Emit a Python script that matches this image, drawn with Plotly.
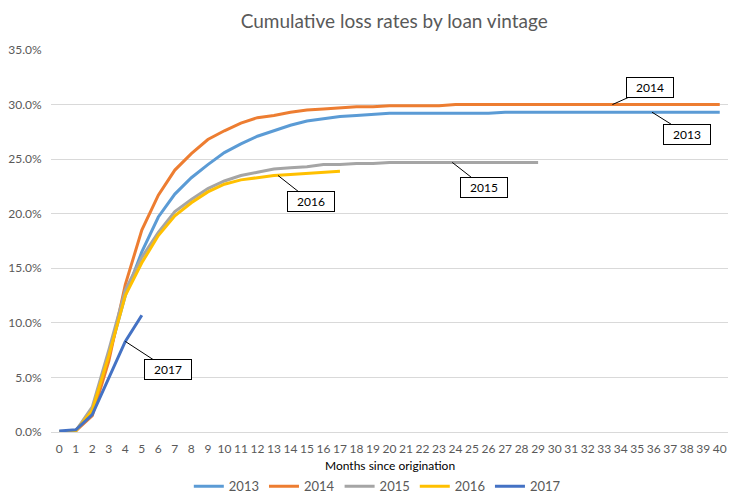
import plotly.graph_objects as go

months = list(range(0, 41))
v2013 = [0.0, 0.1, 2.0, 7.0, 12.5, 16.5, 19.7, 21.8, 23.3, 24.5, 25.6, 26.4, 27.1, 27.6, 28.1, 28.5,
         28.7, 28.9, 29.0, 29.1, 29.2, 29.2, 29.2, 29.2, 29.2, 29.2, 29.2, 29.3, 29.3, 29.3, 29.3,
         29.3, 29.3, 29.3, 29.3, 29.3, 29.3, 29.3, 29.3, 29.3, 29.3]
v2014 = [0.0, 0.1, 1.5, 6.5, 13.5, 18.5, 21.7, 24.0, 25.5, 26.8, 27.6, 28.3, 28.8, 29.0, 29.3, 29.5,
         29.6, 29.7, 29.8, 29.8, 29.9, 29.9, 29.9, 29.9, 30.0, 30.0, 30.0, 30.0, 30.0, 30.0, 30.0,
         30.0, 30.0, 30.0, 30.0, 30.0, 30.0, 30.0, 30.0, 30.0, 30.0]
v2015 = [0.0, 0.1, 2.3, 7.5, 13.0, 16.0, 18.3, 20.2, 21.3, 22.3, 23.0, 23.5, 23.8, 24.1, 24.2, 24.3,
         24.5, 24.5, 24.6, 24.6, 24.7, 24.7, 24.7, 24.7, 24.7, 24.7, 24.7, 24.7, 24.7, 24.7]
v2016 = [0.0, 0.1, 2.0, 7.0, 12.5, 15.5, 18.0, 19.8, 21.0, 22.0, 22.7, 23.1, 23.3, 23.5, 23.6, 23.7,
         23.8, 23.9]
v2017 = [0.1, 0.2, 1.6, 5.0, 8.3, 10.7]

series = [("2013", v2013, "#5B9BD5"), ("2014", v2014, "#ED7D31"), ("2015", v2015, "#A5A5A5"),
          ("2016", v2016, "#FFC000"), ("2017", v2017, "#4472C4")]

FONT = "Lato, Open Sans, sans-serif"
fig = go.Figure()
for name, vals, col in series:
    fig.add_trace(go.Scatter(x=months[:len(vals)], y=[v / 100 for v in vals], mode="lines",
                             name=name, line=dict(color=col, width=3)))

# label annotations: (name, month, value, ax, ay)
labels = [("2014", 33.5, 30.0, 38, -17), ("2013", 35.9, 29.3, 35, 22), ("2015", 23.8, 24.7, 32, 25),
          ("2016", 13.25, 23.5, 33, 26), ("2017", 4.0, 8.3, 43, 28)]
for name, mx, vy, ax, ay in labels:
    fig.add_annotation(x=mx, y=vy / 100, text=name, showarrow=True, arrowhead=0, arrowwidth=1,
                       arrowcolor="#000000", ax=ax, ay=ay, bordercolor="#000000", borderwidth=1,
                       bgcolor="#FFFFFF", width=42, height=15, borderpad=2,
                       font=dict(family=FONT, size=12, color="#000000"))

fig.add_annotation(x=0.5, y=-0.087, xref="paper", yref="paper", text="Months since origination",
                   showarrow=False, font=dict(family=FONT, size=12, color="#000000"),
                   yanchor="middle")

fig.update_layout(
    width=748, height=504,
    margin=dict(l=51, r=20, t=50, b=72, autoexpand=False),
    paper_bgcolor="white", plot_bgcolor="white",
    title=dict(text="Cumulative loss rates by loan vintage", x=0.527, xanchor="center",
               y=0.957, yanchor="middle", font=dict(family=FONT, size=19, color="#595959")),
    font=dict(family=FONT, size=12, color="#595959"),
    legend=dict(orientation="h", x=0.482, xanchor="center", y=0.035, yanchor="middle",
                yref="container", font=dict(family=FONT, size=13, color="#595959"), itemwidth=30),
    showlegend=True,
)
fig.update_xaxes(range=[-0.5, 40.5], tickmode="array", tickvals=months,
                 ticktext=[str(m) for m in months], showgrid=False, zeroline=False,
                 showline=True, linecolor="#D9D9D9", linewidth=1,
                 tickfont=dict(family=FONT, size=12, color="#595959"), ticks="outside",
                 ticklen=6, tickcolor="rgba(0,0,0,0)")
fig.update_yaxes(range=[0, 0.35], dtick=0.05, tickformat=".1%", showgrid=True,
                 gridcolor="#D9D9D9", gridwidth=1, zeroline=False, showline=False,
                 tickfont=dict(family=FONT, size=12, color="#595959"), ticks="outside",
                 ticklen=6, tickcolor="rgba(0,0,0,0)")

fig.write_html("out.html")
